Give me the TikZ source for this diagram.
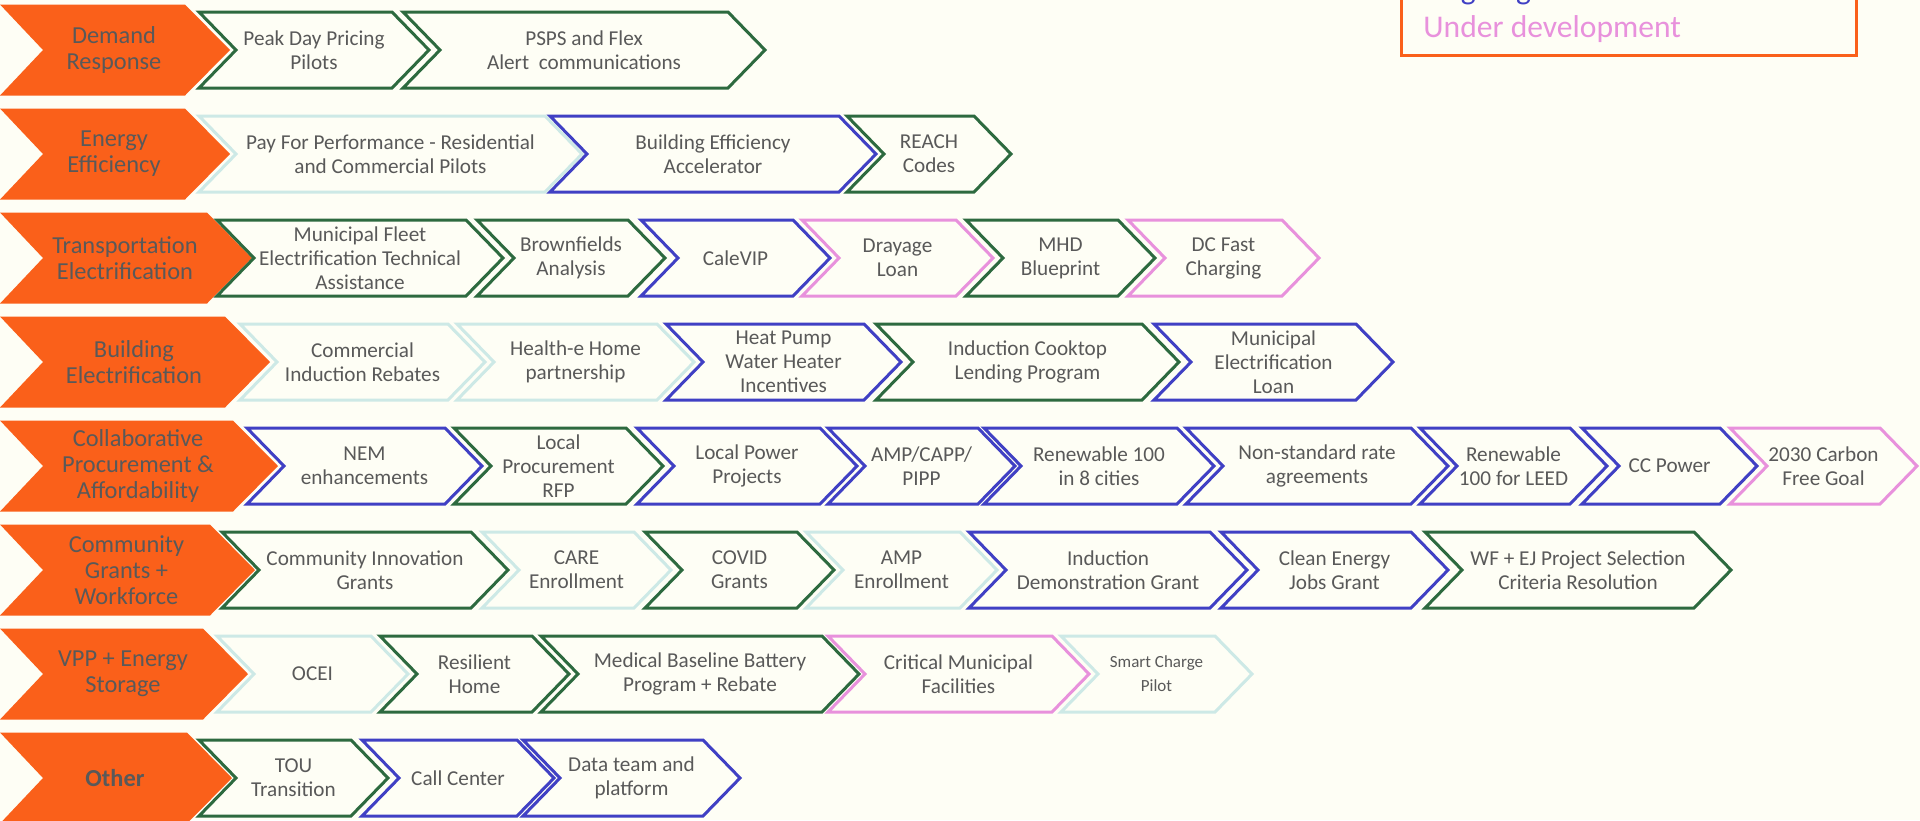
\documentclass[tikz,border=0pt]{standalone}
\usepackage{fontspec}
\setmainfont{Carlito}
\usepackage{tikz}

\definecolor{bgcol}{HTML}{FEFEF5}
\definecolor{orng}{HTML}{FA601A}
\definecolor{grn}{HTML}{2D6A3F}
\definecolor{blu}{HTML}{4040C4}
\definecolor{pnk}{HTML}{E891DC}
\definecolor{tea}{HTML}{CDE9E6}
\definecolor{txtgray}{HTML}{595959}

% chevron: name, style, left x, tip x, centre y, text
\newcommand{\chevbox}[6]{%
  \draw[#2] (#3,#5-38) -- (#4-37,#5-38) -- (#4,#5) -- (#4-37,#5+38) -- (#3,#5+38) -- (#3+37,#5) -- cycle;
  \node[item] (#1) at ({(#3+#4)/2},#5) {#6};
}
% orange topic: name, tip x, centre y, text
\newcommand{\topicbox}[4]{%
  \fill[orng] (0,#3-45.5) -- (#2-45,#3-45.5) -- (#2,#3) -- (#2-45,#3+45.5) -- (0,#3+45.5) -- (43,#3) -- cycle;
  \node[topiclbl] (#1) at ({(#2-2)/2},#3) {#4};
}

\begin{document}
\begin{tikzpicture}[x=0.5pt, y=-0.5pt,
    item/.style={align=center, inner sep=0pt, text=txtgray, font=\fontsize{10.6}{12}\selectfont},
    topiclbl/.style={align=center, inner sep=0pt, text=txtgray, font=\fontsize{12.2}{13}\selectfont},
    outline/.style={line width=1.5pt, line join=miter, fill=bgcol},
    greenbox/.style={outline, draw=grn},
    bluebox/.style={outline, draw=blu},
    pinkbox/.style={outline, draw=pnk},
    tealbox/.style={outline, draw=tea}]
    \useasboundingbox (0,0) rectangle (1920,820);
    \clip (0,0) rectangle (1920,820);
    \fill[bgcol] (0,0) rectangle (1920,820);

    % legend
    \draw[orng, line width=1.5pt] (1401,-10) rectangle (1856,55);
    \node[anchor=base west, inner sep=0pt, text=blu, font=\fontsize{15.8}{18}\selectfont] (legon) at (1423,-1) {Ongoing};
    \node[anchor=base west, inner sep=0pt, text=pnk, font=\fontsize{15.8}{18}\selectfont] (legdev) at (1423,37) {Under development};

    % Demand Response
    \topicbox{dr}{230}{50}{Demand\\Response}
    \chevbox{dr1}{greenbox}{199}{429}{50}{Peak Day Pricing\\Pilots}
    \chevbox{dr2}{greenbox}{403}{765}{50}{PSPS and Flex\\Alert\ \ communications}

    % Energy Efficiency
    \topicbox{ee}{230}{154}{Energy\\Efficiency}
    \chevbox{ee1}{tealbox}{199}{582}{154}{Pay For Performance - Residential\\and Commercial Pilots}
    \chevbox{ee2}{bluebox}{550}{876}{154}{Building Efficiency\\Accelerator}
    \chevbox{ee3}{greenbox}{847}{1011}{154}{REACH\\Codes}

    % Transportation Electrification
    \topicbox{te}{252}{258}{Transportation\\Electrification}
    \chevbox{te1}{greenbox}{217}{503}{258}{Municipal Fleet\\Electrification Technical\\Assistance}
    \chevbox{te2}{greenbox}{477}{665}{258}{Brownfields\\Analysis}
    \chevbox{te3}{bluebox}{641}{830}{258}{CaleVIP}
    \chevbox{te4}{pinkbox}{802}{993}{258}{Drayage\\Loan}
    \chevbox{te5}{greenbox}{966}{1155}{258}{MHD\\Blueprint}
    \chevbox{te6}{pinkbox}{1128}{1319}{258}{DC Fast\\Charging}

    % Building Electrification
    \topicbox{be}{270}{362}{Building\\Electrification}
    \chevbox{be1}{tealbox}{240}{485}{362}{Commercial\\Induction Rebates}
    \chevbox{be2}{tealbox}{457}{694}{362}{Health-e Home\\partnership}
    \chevbox{be3}{bluebox}{666}{901}{362}{Heat Pump\\Water Heater\\Incentives}
    \chevbox{be4}{greenbox}{876}{1179}{362}{Induction Cooktop\\Lending Program}
    \chevbox{be5}{bluebox}{1154}{1393}{362}{Municipal\\Electrification\\Loan}

    % Collaborative Procurement
    \topicbox{cp}{278}{466}{Collaborative\\Procurement \&\\Affordability}
    \chevbox{cp1}{bluebox}{247}{482}{466}{NEM\\enhancements}
    \chevbox{cp2}{greenbox}{454}{663}{466}{Local\\Procurement\\RFP}
    \chevbox{cp3}{bluebox}{637}{857}{466}{Local Power\\Projects}
    \chevbox{cp4}{bluebox}{828}{1015}{466}{AMP/CAPP/\\PIPP}
    \chevbox{cp5}{bluebox}{984}{1214}{466}{Renewable 100\\in 8 cities}
    \chevbox{cp6}{bluebox}{1186}{1448}{466}{Non-standard rate\\agreements}
    \chevbox{cp7}{bluebox}{1420}{1607}{466}{Renewable\\100 for LEED}
    \chevbox{cp8}{bluebox}{1582}{1757}{466}{CC Power}
    \chevbox{cp9}{pinkbox}{1730}{1917}{466}{2030 Carbon\\Free Goal}

    % Community Grants
    \topicbox{cg}{255}{570}{Community\\Grants +\\Workforce}
    \chevbox{cg1}{greenbox}{222}{508}{570}{Community Innovation\\Grants}
    \chevbox{cg2}{tealbox}{482}{671}{570}{CARE\\Enrollment}
    \chevbox{cg3}{greenbox}{645}{834}{570}{COVID\\Grants}
    \chevbox{cg4}{tealbox}{806}{997}{570}{AMP\\Enrollment}
    \chevbox{cg5}{bluebox}{969}{1247}{570}{Induction\\Demonstration Grant}
    \chevbox{cg6}{bluebox}{1221}{1448}{570}{Clean Energy\\Jobs Grant}
    \chevbox{cg7}{greenbox}{1425}{1731}{570}{WF + EJ Project Selection\\Criteria Resolution}

    % VPP + storage
    \topicbox{vp}{248}{674}{VPP + Energy\\Storage}
    \chevbox{vp1}{tealbox}{217}{408}{674}{OCEI}
    \chevbox{vp2}{greenbox}{380}{569}{674}{Resilient\\Home}
    \chevbox{vp3}{greenbox}{541}{859}{674}{Medical Baseline Battery\\Program + Rebate}
    \chevbox{vp4}{pinkbox}{828}{1089}{674}{Critical Municipal\\Facilities}
    \chevbox{vp5}{tealbox}{1061}{1252}{674}{{\fontsize{8.5}{10}\selectfont Smart Charge}\\{\fontsize{8.5}{10}\selectfont Pilot}}

    % Other
    \topicbox{ot}{232}{778}{\textbf{Other}}
    \chevbox{ot1}{greenbox}{199}{388}{778}{TOU\\Transition}
    \chevbox{ot2}{bluebox}{362}{554}{778}{Call Center}
    \chevbox{ot3}{bluebox}{523}{740}{778}{Data team and\\platform}

\end{tikzpicture}
\end{document}
